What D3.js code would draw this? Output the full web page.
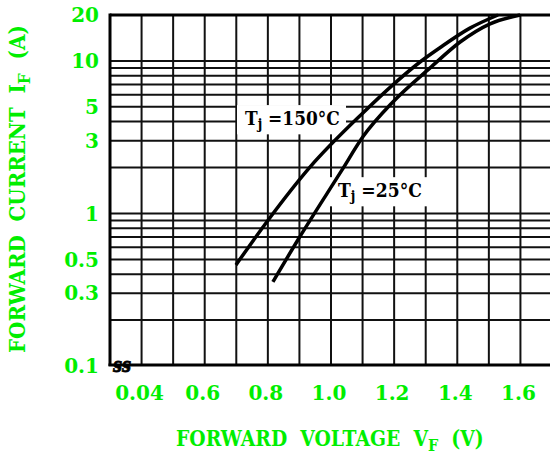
<!DOCTYPE html>
<html>
<head>
<meta charset="utf-8">
<script src="https://cdn.jsdelivr.net/npm/d3@7"></script>
<style>
  html, body { margin: 0; padding: 0; background: #fff; overflow: hidden; }
  svg { display: block; }
  text { font-family: "DejaVu Serif", serif; font-weight: bold; white-space: pre; }
</style>
</head>
<body>
<svg id="chart"></svg>
<script>
// forward voltage (V) / forward current (A)
const vf150 = [0.699, 0.800, 0.934, 1.101, 1.196, 1.282, 1.345, 1.440, 1.529];
const if150 = [0.46, 0.90, 2.02, 4.56, 6.97, 9.84, 12.2, 16.4, 20];
const vf25 = [0.816, 0.895, 1.035, 1.101, 1.196, 1.314, 1.409, 1.504, 1.599];
const if25 = [0.356, 0.67, 1.93, 3.18, 5.38, 9.0, 13.3, 17.5, 20];

const xTickVals = [0.4, 0.6, 0.8, 1.0, 1.2, 1.4, 1.6];
const xTickLabels = ['0.04', '0.6', '0.8', '1.0', '1.2', '1.4', '1.6'];
const yTickVals = [20, 10, 5, 3, 1, 0.5, 0.3, 0.1];
const yTickLabels = ['20', '10', '5', '3', '1', '0.5', '0.3', '0.1'];
const xGridVals = d3.range(4, 18).map(d => d / 10);
const yGridVals = [0.2, 0.3, 0.4, 0.5, 0.6, 0.7, 0.8, 0.9, 1, 2, 3, 4, 5, 6, 7, 8, 9, 10];

const green = '#00ee00';
const W = 550, H = 457;
const svg = d3.select('#chart').attr('width', W).attr('height', H)
  .attr('viewBox', [0, 0, W, H]);

const x = d3.scaleLinear().domain([0.3, 1.7]).range([110, 552]);
const y = d3.scaleLog().domain([0.1, 20]).range([366, 15]);

// grid
svg.append('g')
  .selectAll('line')
  .data(xGridVals)
  .enter().append('line')
  .attr('x1', d => x(d)).attr('x2', d => x(d))
  .attr('y1', y(20)).attr('y2', y(0.1))
  .attr('stroke', '#111').attr('stroke-width', 2);
svg.append('g')
  .selectAll('line')
  .data(yGridVals)
  .enter().append('line')
  .attr('x1', x(0.3)).attr('x2', W)
  .attr('y1', d => y(d)).attr('y2', d => y(d))
  .attr('stroke', '#111').attr('stroke-width', 2);

// text with a subscript, squeezed horizontally to a given width
const subText = (parent, main, sub, rest, size, subSize, width, fill) => {
  const g = parent.append('g');
  const t = g.append('text').style('font-size', size + 'px').attr('fill', fill);
  t.append('tspan').text(main);
  t.append('tspan').attr('dy', size * 0.22).style('font-size', subSize + 'px').text(sub);
  t.append('tspan').attr('dy', -size * 0.22).text(rest);
  const w = t.node().getComputedTextLength();
  t.attr('transform', `scale(${width / w},1)`);
  return g;
};

// curve labels with white backing
const addLabel = (lx, ly, num, len) => {
  const g = subText(svg, 'T', 'j', ' =' + num + '°C', 19, 14, len, '#000')
    .attr('transform', `translate(${lx},${ly})`);
  const bb = g.node().getBBox();
  g.insert('rect', 'text')
    .attr('x', -8).attr('y', bb.y - 2)
    .attr('width', len + 14).attr('height', bb.height + 4)
    .attr('fill', '#fff');
};
addLabel(245, 125, '150', 95);
addLabel(338, 197, '25', 84);

// curves
const line = d3.line()
  .x(d => x(d[0]))
  .y(d => y(d[1]))
  .curve(d3.curveMonotoneX);
svg.append('path')
  .datum(vf150.map((v, i) => [v, if150[i]]))
  .attr('fill', 'none').attr('stroke', '#000').attr('stroke-width', 3.5)
  .attr('d', line);
svg.append('path')
  .datum(vf25.map((v, i) => [v, if25[i]]))
  .attr('fill', 'none').attr('stroke', '#000').attr('stroke-width', 3.5)
  .attr('d', line);

// frame
svg.append('line')
  .attr('x1', x(0.3)).attr('x2', W).attr('y1', y(20)).attr('y2', y(20))
  .attr('stroke', '#000').attr('stroke-width', 3);
svg.append('line')
  .attr('x1', x(0.3)).attr('x2', x(0.3)).attr('y1', y(20) - 1.5).attr('y2', y(0.1))
  .attr('stroke', '#000').attr('stroke-width', 3);
svg.append('line')
  .attr('x1', x(0.3) - 1.5).attr('x2', W).attr('y1', y(0.1) - 1).attr('y2', y(0.1) - 1)
  .attr('stroke', '#000').attr('stroke-width', 3);

// axis break mark
svg.append('text')
  .attr('x', 113).attr('y', 372)
  .style('font-size', '20px')
  .style('font-style', 'italic')
  .attr('fill', '#000')
  .attr('stroke', '#000')
  .attr('stroke-width', 0.8)
  .attr('textLength', 18)
  .attr('lengthAdjust', 'spacingAndGlyphs')
  .text('ss');

// tick labels
svg.append('g')
  .selectAll('text')
  .data(xTickVals)
  .enter().append('text')
  .attr('x', d => x(d) - 2)
  .attr('y', 400)
  .attr('text-anchor', 'middle')
  .style('font-size', '20px')
  .attr('fill', green)
  .text((d, i) => xTickLabels[i]);
svg.append('g')
  .selectAll('text')
  .data(yTickVals)
  .enter().append('text')
  .attr('x', 99)
  .attr('y', d => y(d))
  .attr('dy', '0.36em')
  .attr('text-anchor', 'end')
  .style('font-size', '20px')
  .attr('fill', green)
  .text((d, i) => yTickLabels[i]);

// axis titles
subText(svg, 'FORWARD  VOLTAGE  V', 'F', '  (V)', 22, 17, 308, green)
  .attr('transform', 'translate(176,446)');
subText(svg, 'FORWARD  CURRENT  I', 'F', '  (A)', 22, 17, 328, green)
  .attr('transform', 'translate(25,353) rotate(-90)');
</script>
</body>
</html>
